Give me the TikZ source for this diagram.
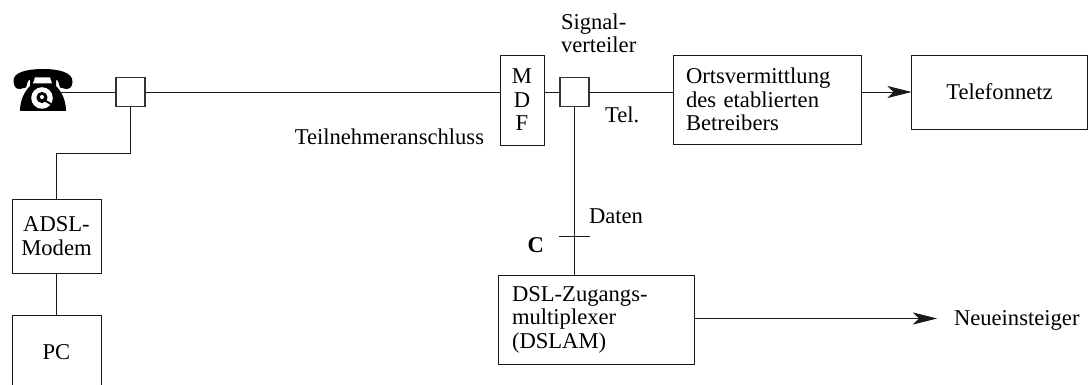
\documentclass[tikz,border=0pt]{standalone}
\usepackage{fontspec}
\setmainfont{Liberation Serif}
\usetikzlibrary{arrows.meta}
\newcommand{\dfont}{\fontsize{22.6}{23.5}\selectfont}
\tikzset{
  x=1pt,y=-1pt,
  wire/.style={line width=0.9pt,black!90},
  flow/.style={wire,-{Stealth[length=24pt,width=12pt,inset=6pt]}},
  boxed/.style={draw=black!90,line width=0.9pt,fill=white,inner sep=0pt,outer sep=0pt,align=left,font=\dfont},
  joint/.style={boxed,draw=black!80,line width=1.1pt,minimum width=29pt,minimum height=29pt},
  lbl/.style={inner sep=0pt,outer sep=0pt,align=left,font=\dfont},
}
\begin{document}
\begin{tikzpicture}
\useasboundingbox (0,0) rectangle (1090,385);
\clip (0,0) rectangle (1090,385);
% telephone
\coordinate (phone) at (60,92);
\fill[black] (13.5,81) .. controls (13,72) and (28,69) .. (43,69) .. controls (58,69) and (73,72) .. (72.5,82)
  .. controls (72,87) and (70,89) .. (66,89) -- (60,87.5) -- (58,81) -- (52,77) -- (34,77) -- (28,81) -- (26,87.5) -- (20,89) .. controls (15,89) and (14,86) .. (13.5,81) -- cycle;
\fill[black] (30,76) -- (56,76) -- (56,86) .. controls (62,92) and (66,101) .. (66,111) -- (20,111) .. controls (20,101) and (24,92) .. (30,86) -- cycle;
\fill[white] (35,77.5) -- (50,77.5) -- (52,83.5) -- (33,83.5) -- cycle;
\fill[white] (42,98) circle (10.8);
\fill[black] (42,97.5) circle (5.6);
\fill[white] (42,97) circle (2);
\draw[black,line width=2pt] (44,100) -- (51,104);
% boxes
\node[joint] (j1) at (130.5,92) {};
\node[joint] (j2) at (574.5,92) {};
\node[boxed,minimum width=44pt,minimum height=90pt,align=center] (mdf) at (522,100) {M\\D\\F};
\node[boxed,minimum width=188pt,minimum height=89pt,text width=163pt] (orts) at (767.5,99.5) {Ortsvermittlung\\des etablierten\\Betreibers};
\node[boxed,minimum width=176pt,minimum height=74pt,align=center] (netz) at (999.5,92) {Telefonnetz};
\node[boxed,minimum width=89pt,minimum height=74pt,align=center] (modem) at (56.5,236) {ADSL-\\Modem};
\node[boxed,minimum width=89pt,minimum height=74pt,align=center] (pc) at (56.5,352) {PC};
\node[boxed,minimum width=196pt,minimum height=89pt,text width=168pt] (dslam) at (596,319.5) {DSL-Zugangs-\\multiplexer\\(DSLAM)};
% free text
\node[lbl,align=left,anchor=base west] (sig) at (561,53) {Signal-\\verteiler};
\node[lbl,anchor=base west] (tel) at (605,123) {Tel.};
\node[lbl,anchor=base east] (tn) at (484,145) {Teilnehmeranschluss};
\node[lbl,anchor=base west] (dat) at (589,223) {Daten};
\node[lbl,anchor=base east,font=\dfont\bfseries] (c) at (544,252) {C};
\node[lbl,anchor=base west] (neu) at (954,325) {Neueinsteiger};
% connectors
\coordinate (bend) at (56.5,153);
\coordinate (neuend) at (937,318.5);
\coordinate (tickL) at (559,236);
\coordinate (tickR) at (590,236);
\draw[wire] (phone) -- (j1);
\draw[wire] (j1) -- (mdf.west |- j1);
\draw[wire] (mdf.east |- j2) -- (j2);
\draw[wire] (j2) -- (orts.west |- j2);
\draw[flow] (orts.east |- netz) -- (netz);
\draw[wire] (j1.south) |- (bend) -- (modem.north);
\draw[wire] (modem) -- (pc);
\draw[wire] (j2.south) -- (j2.south |- dslam.north);
\draw[wire] (tickL) -- (tickR);
\draw[flow] (dslam.east |- neuend) -- (neuend);
\end{tikzpicture}
\end{document}
